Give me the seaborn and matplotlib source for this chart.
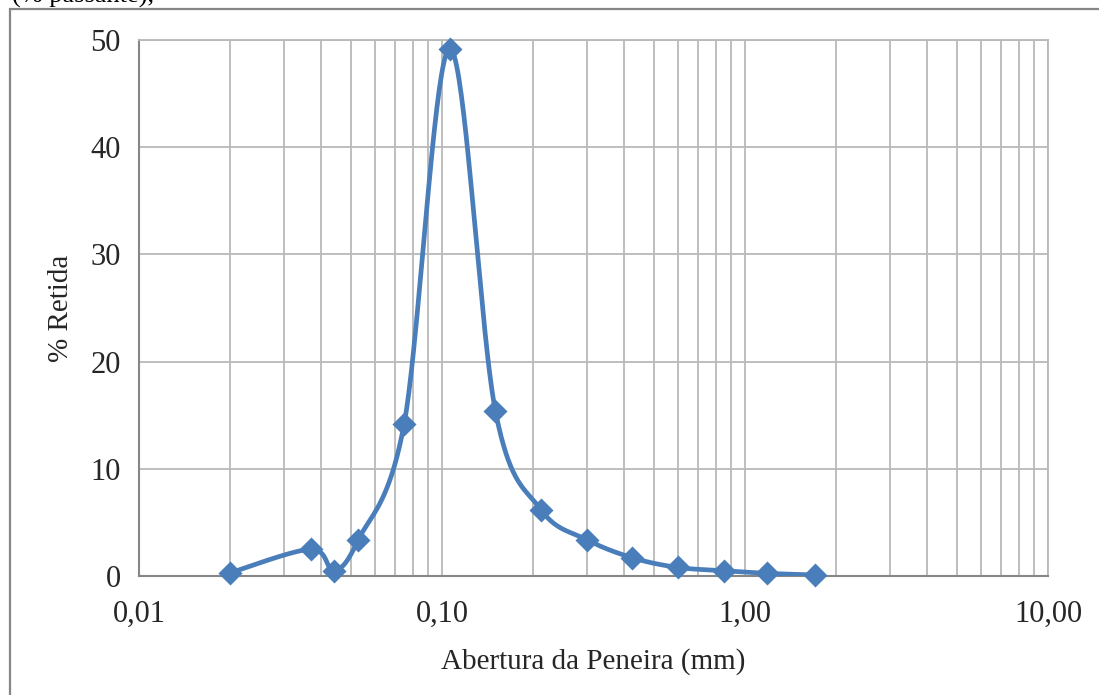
import numpy as np
import pandas as pd
import seaborn as sns
import matplotlib.pyplot as plt
from matplotlib.patches import Rectangle
from matplotlib.ticker import FixedLocator, FuncFormatter, LogLocator

# abertura das peneiras (mm) e % retida
abertura_mm = [0.020, 0.037, 0.044, 0.053, 0.075, 0.106, 0.150, 0.212, 0.300, 0.425, 0.600, 0.850, 1.18, 1.70]
retida_pct = [0.3, 2.5, 0.5, 3.4, 14.2, 49.2, 15.4, 6.2, 3.4, 1.7, 0.8, 0.5, 0.25, 0.1]

y_ticks = [0, 10, 20, 30, 40, 50]
x_ticks = [0.01, 0.1, 1, 10]
x_tick_labels = ['0,01', '0,10', '1,00', '10,00']

azul = '#4a7ebb'
cinza_grade = '#b9b9b9'
cinza_eixo = '#868686'


def suaviza(xs, ys, n=40):
    # curva suavizada tipo Excel (Catmull-Rom em coordenadas de tela)
    px = np.log10(xs) * 303.0
    py = np.array(ys) * 10.72
    pts = np.column_stack([px, py])
    pts = np.vstack([pts[0], pts, pts[-1]])
    out = []
    for k in range(1, len(pts) - 2):
        p0, p1, p2, p3 = pts[k - 1], pts[k], pts[k + 1], pts[k + 2]
        t = np.linspace(0, 1, n)[:, None]
        c1 = p1 + (p2 - p0) / 6
        c2 = p2 - (p3 - p1) / 6
        seg = (1 - t) ** 3 * p1 + 3 * (1 - t) ** 2 * t * c1 + 3 * (1 - t) * t ** 2 * c2 + t ** 3 * p2
        out.append(seg)
    out = np.vstack(out)
    return 10 ** (out[:, 0] / 303.0), out[:, 1] / 10.72


sns.set_style('white')
plt.rcParams['font.family'] = ['Liberation Serif', 'DejaVu Serif']

fig = plt.figure(figsize=(10.99, 6.95), dpi=100)
ax = fig.add_axes([0.1265, 0.1712, 0.8271, 0.7712])

cx, cy = suaviza(abertura_mm, retida_pct)
curva = pd.DataFrame({'x': cx, 'y': cy})
pontos = pd.DataFrame({'Abertura': abertura_mm, 'Retida': retida_pct})

ax.set_xscale('log')
ax.set_xlim(0.01, 10)
ax.set_ylim(0, 50)

sns.lineplot(data=curva, x='x', y='y', sort=False, color=azul, linewidth=3.4, ax=ax, zorder=3)
sns.scatterplot(data=pontos, x='Abertura', y='Retida', marker='D', s=150, color=azul,
                edgecolor=azul, linewidth=0, ax=ax, zorder=4, clip_on=False)

ax.xaxis.set_major_locator(FixedLocator(x_ticks))
ax.xaxis.set_major_formatter(FuncFormatter(lambda v, p: x_tick_labels[x_ticks.index(min(x_ticks, key=lambda t: abs(t - v)))]))
ax.xaxis.set_minor_locator(LogLocator(base=10, subs=np.arange(2, 10)))
ax.xaxis.set_minor_formatter(FuncFormatter(lambda v, p: ''))
ax.set_yticks(y_ticks)

ax.grid(True, which='both', axis='x', color=cinza_grade, linewidth=1.3)
ax.grid(True, which='major', axis='y', color=cinza_grade, linewidth=1.3)
ax.set_axisbelow(True)

for lado in ['top', 'right']:
    ax.spines[lado].set_color(cinza_grade)
    ax.spines[lado].set_linewidth(1.3)
for lado in ['left', 'bottom']:
    ax.spines[lado].set_color(cinza_eixo)
    ax.spines[lado].set_linewidth(1.5)

ax.tick_params(axis='y', which='major', direction='out', length=7, width=1.5, color=cinza_eixo,
               labelsize=22, pad=6)
ax.tick_params(axis='x', which='major', direction='out', length=7, width=1.5, color=cinza_eixo,
               labelsize=22, pad=10)
ax.tick_params(axis='x', which='minor', direction='out', length=7, width=1.5, color=cinza_eixo)
ax.tick_params(axis='y', which='minor', left=False)

ax.set_xlabel('Abertura da Peneira (mm)', fontsize=21, labelpad=14)
ax.set_ylabel('% Retida', fontsize=21, labelpad=12)

# moldura da área do gráfico
fig.patches.append(Rectangle((10 / 1099, -0.1), 1.2, 1 - 9 / 695 + 0.1, transform=fig.transFigure,
                             fill=False, edgecolor=cinza_eixo, linewidth=1.6))
fig.text(12 / 1099, 1 + 4 / 695, '(% passante),', fontsize=19, ha='left', va='center', color='black')

fig.savefig('out.png', dpi=100)
